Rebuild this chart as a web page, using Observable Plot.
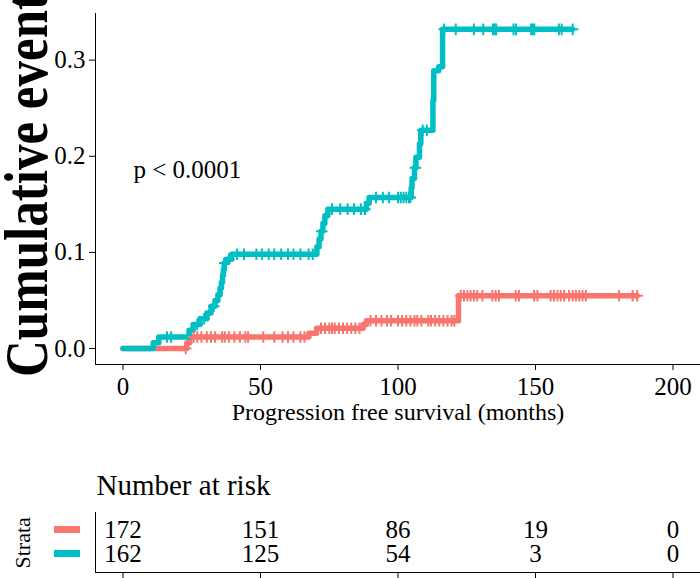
<!DOCTYPE html>
<html><head><meta charset="utf-8">
<script src="https://cdn.jsdelivr.net/npm/d3@7"></script>
<script src="https://cdn.jsdelivr.net/npm/@observablehq/plot@0.6"></script>
<style>
body{margin:0;background:#fff;}
#chart{width:700px;height:578px;overflow:hidden;font-family:"Liberation Serif",serif;background:#fff;}
#chart svg{display:block;}
</style></head><body><div id="chart"></div>
<script>
// ---- data ----
const strata = ["Group 1", "Group 2"];
const strataColors = ["#F8766D", "#00BFC4"];

// Group 1 (red): event times and cumulative event values
const eventTimes1 = [23.2, 24.3, 67.6, 70.4, 87.3, 88.5, 122];
const eventCum1   = [0.006, 0.012, 0.016, 0.021, 0.025, 0.029, 0.055];
const lastTime1 = 187;
const censorTimes1 = [22.8, 25.7, 27, 28.5, 30.5, 32, 33.5, 36, 37, 38.5, 40.5, 42.5, 44.5, 45.5, 51, 55, 58, 60, 62, 64.5, 66,
  72, 73.5, 75, 76, 77, 78.5, 80, 81.5, 83, 84.5, 86, 90, 92, 94, 96, 97.5, 100, 101.5, 103, 104.5, 106, 107, 108.5,
  111, 112, 113.5, 115, 116.5, 118, 119.5, 120.5, 122.8, 124, 125.2, 126.4, 127.6, 128.8, 130.7, 134.3, 135.5, 136.7,
  142.8, 144, 149.5, 150.7, 155.5, 156.7, 158, 159.2, 160.4, 162.2, 163.5, 164.7, 165.9, 167.1, 168.3, 180.4, 185.3, 187];

// Group 2 (teal)
const eventTimes2 = [11, 13, 24, 25.5, 28, 30.5, 32, 33.5, 34.5, 35.3, 35.8, 36.2, 36.5, 36.8, 37.5, 39.5,
  70.5, 71.3, 72, 72.7, 73.4, 74.5, 88.5, 89.5, 104.8, 105.1, 106, 106.5, 107.8, 108.3, 112.7, 113, 114.8, 116.2];
const eventCum2 = [0.006, 0.012, 0.019, 0.025, 0.031, 0.037, 0.044, 0.050, 0.056, 0.063, 0.069, 0.076, 0.082, 0.089, 0.093, 0.098,
  0.106, 0.114, 0.122, 0.130, 0.138, 0.145, 0.151, 0.157, 0.167, 0.177, 0.188, 0.199, 0.213, 0.227, 0.258, 0.289, 0.293, 0.332];
const lastTime2 = 163.5;
const censorTimes2 = [16, 17.5, 27, 29.5, 33, 37, 38.5, 41.5, 44, 48.5, 50.5, 53, 55, 57.5, 60, 62, 64.5, 67.5, 69, 72.3,
  76, 79, 81.7, 84, 86.5, 88, 92, 94.5, 96.7, 100, 101, 102, 103, 104, 104.5, 106.3, 109, 110.5,
  116.8, 121, 127.6, 131, 134.5, 135.1, 135.7, 142, 142.9, 148.4, 149, 149.6, 158.5, 159.5, 163.5];

const xTicks = [0, 50, 100, 150, 200];
const yTicks = [0, 0.1, 0.2, 0.3];
const riskTimes = [0, 50, 100, 150, 200];
const riskCounts1 = [172, 151, 86, 19, 0];
const riskCounts2 = [162, 125, 54, 3, 0];

const yLabel = "Cumulative event";
const xLabel = "Progression free survival (months)";
const pLabel = "p < 0.0001";
const riskTitle = "Number at risk";
const strataLabel = "Strata";

// ---- build tables ----
function steps(g, times, cums, last) {
  const out = [{t: 0, v: 0, g}];
  times.forEach((t, i) => out.push({t, v: cums[i], g}));
  out.push({t: last, v: cums[cums.length - 1], g});
  return out;
}
function censors(g, times, evT, evC) {
  return times.map(t => {
    let v = 0;
    evT.forEach((et, i) => { if (et <= t) v = evC[i]; });
    return {t, v, g};
  });
}
const curves = [
  ...steps(strata[0], eventTimes1, eventCum1, lastTime1),
  ...steps(strata[1], eventTimes2, eventCum2, lastTime2)
];
const censorPts = [
  ...censors(strata[0], censorTimes1, eventTimes1, eventCum1),
  ...censors(strata[1], censorTimes2, eventTimes2, eventCum2)
];
const riskRows = [
  ...riskTimes.map((t, i) => ({t, g: strata[0], n: riskCounts1[i]})),
  ...riskTimes.map((t, i) => ({t, g: strata[1], n: riskCounts2[i]}))
];

const font = "Liberation Serif";

const main = Plot.plot({
  width: 700, height: 440,
  marginLeft: 95, marginRight: 0, marginTop: 13, marginBottom: 76,
  style: {fontFamily: font, fontSize: "25px", color: "#000", background: "#fff"},
  x: {domain: [-10, 210]},
  y: {domain: [-0.0166, 0.3485]},
  color: {domain: strata, range: strataColors},
  marks: [
    Plot.frame({anchor: "left", stroke: "#000"}),
    Plot.frame({anchor: "bottom", stroke: "#000"}),
    Plot.axisY({ticks: yTicks, tickFormat: d3.format(".1f"), tickSize: 6, tickPadding: 4, label: null, fontSize: 25}),
    Plot.axisX({ticks: xTicks, tickSize: 6, tickPadding: 7, label: null, fontSize: 25}),
    Plot.line(curves, {x: "t", y: "v", z: "g", stroke: "g", curve: "step-after", strokeWidth: 5.5}),
    Plot.dot(censorPts, {x: "t", y: "v", stroke: "g", symbol: "plus", r: 3.8, strokeWidth: 2}),
    Plot.text([pLabel], {frameAnchor: "top-left", dx: 38, dy: 147, textAnchor: "start", fontSize: 25, fill: "#000"}),
    Plot.text([xLabel], {frameAnchor: "bottom", dy: 55, fontSize: 24, fill: "#000"})
  ]
});

d3.select(main).append("text")
  .attr("transform", "translate(47,377) rotate(-90)")
  .attr("text-anchor", "start")
  .attr("font-family", font)
  .attr("font-weight", "bold")
  .attr("font-size", 62)
  .attr("textLength", 384)
  .attr("lengthAdjust", "spacingAndGlyphs")
  .attr("fill", "#000")
  .text(yLabel);

const table = Plot.plot({
  width: 700, height: 138,
  marginLeft: 95, marginRight: 0, marginTop: 72, marginBottom: 6,
  style: {fontFamily: font, fontSize: "25px", color: "#000", background: "#fff"},
  x: {domain: [-10, 210]},
  y: {type: "point", domain: strata, padding: 0.724, align: 0.465},
  color: {domain: strata, range: strataColors},
  marks: [
    Plot.frame({anchor: "left", stroke: "#000"}),
    Plot.frame({anchor: "bottom", stroke: "#000"}),
    Plot.axisX({ticks: riskTimes, tickSize: 6, tickFormat: () => "", label: null}),
    Plot.axisY({tickSize: 26, dx: -15, stroke: d => d, strokeWidth: 7, tickFormat: () => "", label: null}),
    Plot.text(riskRows, {x: "t", y: "g", text: "n", fontSize: 25, fill: "#000"}),
    Plot.text([riskTitle], {frameAnchor: "top-left", dx: 1, dy: -38, textAnchor: "start", fontSize: 29, fill: "#000"}),
    Plot.text([strataLabel], {frameAnchor: "left", dx: -73, dy: 26, rotate: -90, fontSize: 22, fill: "#000"})
  ]
});

const root = document.getElementById("chart");
root.appendChild(main);
root.appendChild(table);
</script></body></html>
